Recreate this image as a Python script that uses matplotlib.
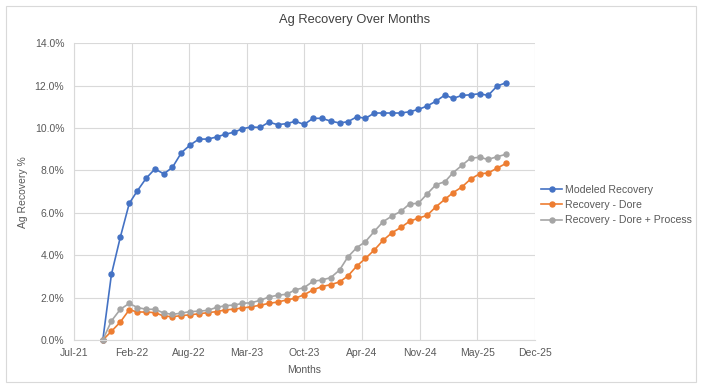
import matplotlib
matplotlib.use("Agg")
import matplotlib.pyplot as plt
import matplotlib.dates as mdates
from matplotlib.ticker import PercentFormatter, FixedLocator
from matplotlib.patches import Rectangle
import pandas as pd

# ---- data ----
months = pd.date_range("2021-10-31", periods=47, freq="ME")

modeled_recovery = [0.0, 3.10, 4.86, 6.45, 7.04, 7.64, 8.07, 7.84, 8.15, 8.84,
                    9.21, 9.48, 9.48, 9.58, 9.71, 9.81, 9.97, 10.05, 10.03, 10.28,
                    10.16, 10.21, 10.32, 10.17, 10.46, 10.46, 10.33, 10.24, 10.30, 10.53,
                    10.46, 10.71, 10.71, 10.71, 10.71, 10.77, 10.88, 11.04, 11.27, 11.56,
                    11.40, 11.54, 11.57, 11.62, 11.54, 11.98, 12.14]

recovery_dore = [0.0, 0.41, 0.85, 1.43, 1.32, 1.32, 1.29, 1.13, 1.10, 1.15,
                 1.19, 1.24, 1.29, 1.34, 1.42, 1.46, 1.51, 1.57, 1.64, 1.73,
                 1.79, 1.89, 1.97, 2.14, 2.36, 2.52, 2.61, 2.74, 3.02, 3.49,
                 3.85, 4.25, 4.70, 5.06, 5.31, 5.60, 5.75, 5.88, 6.29, 6.64,
                 6.95, 7.22, 7.59, 7.84, 7.88, 8.11, 8.33]

recovery_dore_process = [0.0, 0.90, 1.45, 1.73, 1.53, 1.45, 1.45, 1.27, 1.21, 1.27,
                         1.34, 1.36, 1.40, 1.54, 1.62, 1.65, 1.73, 1.76, 1.87, 2.03,
                         2.11, 2.16, 2.37, 2.47, 2.77, 2.83, 2.94, 3.30, 3.92, 4.36,
                         4.64, 5.13, 5.58, 5.85, 6.07, 6.42, 6.45, 6.89, 7.33, 7.47,
                         7.89, 8.24, 8.58, 8.62, 8.52, 8.65, 8.76]

series_names = ["Modeled Recovery", "Recovery - Dore", "Recovery - Dore + Process"]
series_colors = ["#4472C4", "#ED7D31", "#A5A5A5"]

x_start = pd.Timestamp("2021-07-23")
x_ticks = pd.date_range(x_start, periods=9, freq="200D")
y_ticks = [0, 2, 4, 6, 8, 10, 12, 14]

# ---- figure ----
plt.rcParams["font.family"] = ["Liberation Sans", "DejaVu Sans"]
text_color = "#595959"

W, H = 702, 389
fig = plt.figure(figsize=(W / 100, H / 100), dpi=100)
fig.patch.set_facecolor("white")
fig.add_artist(Rectangle((6 / W, 1 - 382 / H), (696 - 6) / W, (382 - 6) / H,
                         transform=fig.transFigure, fill=False,
                         edgecolor="#d9d9d9", linewidth=0.8))

ax = fig.add_axes([74 / W, 1 - 340 / H, (534.8 - 74) / W, (340 - 43.3) / H])

for vals, name, col in zip([modeled_recovery, recovery_dore, recovery_dore_process],
                           series_names, series_colors):
    ax.plot(months, vals, color=col, linewidth=1.2, marker="o", markersize=3.6,
            label=name, clip_on=False)

ax.set_xlim(x_ticks[0], x_ticks[-1])
ax.set_ylim(0, 14)
ax.xaxis.set_major_locator(FixedLocator(mdates.date2num(x_ticks)))
ax.xaxis.set_major_formatter(mdates.DateFormatter("%b-%y"))
ax.yaxis.set_major_locator(FixedLocator(y_ticks))
ax.yaxis.set_major_formatter(PercentFormatter(xmax=100, decimals=1))

ax.grid(True, color="#d9d9d9", linewidth=0.8)
ax.set_axisbelow(True)
for s in ["top", "right"]:
    ax.spines[s].set_visible(False)
for s in ["left", "bottom"]:
    ax.spines[s].set_color("#d9d9d9")
    ax.spines[s].set_linewidth(0.8)

ax.tick_params(axis="both", length=0, labelsize=7.5, labelcolor=text_color)
ax.tick_params(axis="y", pad=7)
ax.tick_params(axis="x", pad=6)

fig.text(355 / W, 1 - 20 / H, "Ag Recovery Over Months", fontsize=9.3,
         color="#404040", ha="center", va="center")
ax.set_xlabel("Months", fontsize=7.5, color=text_color, labelpad=5)
ax.set_ylabel("Ag Recovery %", fontsize=7.5, color=text_color, labelpad=4.5)

leg = fig.legend(loc="center left", bbox_to_anchor=(541 / W, 1 - 205 / H),
                 bbox_transform=fig.transFigure, frameon=False,
                 fontsize=7.6, handlelength=2.0, handletextpad=0.3,
                 labelspacing=0.5, borderaxespad=0, borderpad=0)
for t in leg.get_texts():
    t.set_color(text_color)

fig.savefig("out.png", dpi=100)
